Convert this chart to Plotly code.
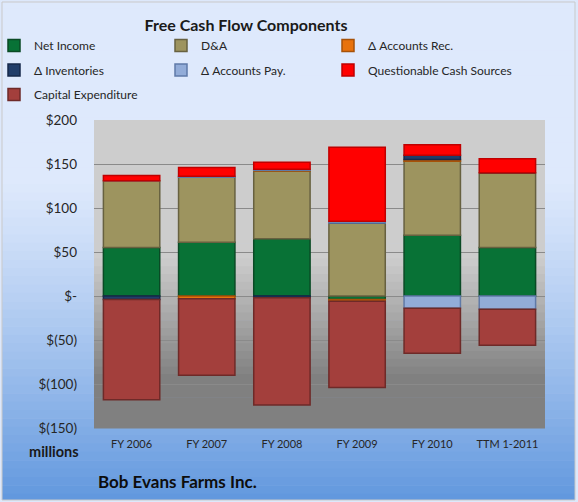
import plotly.graph_objects as go

# values in $ millions
periods = ["FY 2006", "FY 2007", "FY 2008", "FY 2009", "FY 2010", "TTM 1-2011"]
net_income = [55, 61, 65, -4, 69, 55]
d_and_a = [76, 74, 77, 83, 84, 85]
d_acc_rec = [0, -3, 1, -2, 2, 0]
d_inventories = [-4, 0, -2, 0, 5, 0]
d_acc_pay = [0, 1, 1, 2, -14, -15]
questionable = [6, 10, 8, 84, 12, 16]
capex = [-114, -87, -122, -98, -51, -41]

tick_vals = [200, 150, 100, 50, 0, -50, -100, -150]
tick_text = ["$200", "$150", "$100", "$50", "$-", "$(50)", "$(100)", "$(150)"]

FONT = "Lato, 'Open Sans', sans-serif"

# legend laid out in three columns, like the original
series = [
    ("Net Income", net_income, "#087236", "#0a4a25", "legend"),
    ("D&A", d_and_a, "#9d945f", "#676140", "legend2"),
    ("Δ Accounts Rec.", d_acc_rec, "#e8720c", "#a65208", "legend3"),
    ("Δ Inventories", d_inventories, "#213d69", "#16284a", "legend"),
    ("Δ Accounts Pay.", d_acc_pay, "#92acd8", "#5f7aa8", "legend2"),
    ("Questionable Cash Sources", questionable, "#ff0000", "#c00000", "legend3"),
    ("Capital Expenditure", capex, "#a33f3c", "#6e2a28", "legend"),
]

fig = go.Figure()
for name, vals, col, edge, leg in series:
    fig.add_trace(go.Bar(
        x=periods, y=vals, name=name, legend=leg, legendgroup=name,
        marker=dict(color=col, line=dict(color=edge, width=1.5)),
    ))

# plot area in pixels: x 94..545, y 120..428
W, H = 578, 502
L, R, T, B = 94, 33, 120, 74
pw, ph = W - L - R, H - T - B


def px_x(p):
    return (p - L) / pw


def px_y(p):
    return (H - B - p) / ph


def mix(c1, c2, t):
    return "rgb(%d,%d,%d)" % tuple(round(a + (b - a) * t) for a, b in zip(c1, c2))


shapes = []
# figure background gradient
n = 60
for k in range(n):
    y0 = k * H / n
    y1 = (k + 1) * H / n + 0.5
    t = max(0.0, (k / (n - 1) - 0.35) / 0.65) ** 1.2
    shapes.append(dict(type="rect", xref="paper", yref="paper", layer="below",
                       x0=px_x(2), x1=px_x(W - 3), y0=px_y(max(y0, 2)), y1=px_y(min(y1, H - 2)),
                       line=dict(width=0), fillcolor=mix((222, 233, 252), (98, 152, 222), t)))
# plot area gradient
m = 40
for k in range(m):
    t = k / (m - 1)
    g = 205 if t < 0.45 else 205 - (205 - 128) * min(1.0, (t - 0.45) / 0.4)
    shapes.append(dict(type="rect", xref="paper", yref="paper", layer="below",
                       x0=0, x1=1, y0=1 - k / m, y1=1 - (k + 1) / m - 0.002,
                       line=dict(width=0), fillcolor="rgb(%d,%d,%d)" % (g, g, g)))
# outer border
shapes.append(dict(type="rect", xref="paper", yref="paper", layer="above",
                   x0=px_x(2), x1=px_x(W - 3), y0=px_y(2), y1=px_y(H - 2),
                   line=dict(color="#c9c9c9", width=1)))

legend_common = dict(orientation="v", xanchor="left", yanchor="top", tracegroupgap=5.5,
                     bgcolor="rgba(0,0,0,0)", itemclick=False,
                     font=dict(family=FONT, size=12, color="#262626"))

fig.update_layout(
    width=W, height=H,
    margin=dict(l=L, r=R, t=T, b=B, autoexpand=False),
    barmode="relative",
    bargap=0.25,
    paper_bgcolor="#dde8fb",
    plot_bgcolor="rgba(0,0,0,0)",
    font=dict(family=FONT, size=12, color="#262626"),
    title=dict(text="<b>Free Cash Flow Components</b>", x=246 / W, xanchor="center",
               y=1 - 25 / H, yanchor="middle", font=dict(family=FONT, size=16, color="#1a1a1a")),
    legend=dict(x=px_x(-6), y=px_y(31), **legend_common),
    legend2=dict(x=px_x(161), y=px_y(31), **legend_common),
    legend3=dict(x=px_x(328), y=px_y(31), **legend_common),
    xaxis=dict(showgrid=False, showline=False, ticks="", tickfont=dict(size=11, color="#262626"),
               ticklabelstandoff=8),
    yaxis=dict(range=[-150, 200], tickvals=tick_vals, ticktext=tick_text,
               showgrid=True, gridcolor="#8a8a8a", gridwidth=1, zeroline=True,
               zerolinecolor="#8a8a8a", zerolinewidth=1, showline=False,
               tickfont=dict(size=13.5, color="#262626"), ticklabelstandoff=16),
    shapes=shapes,
    annotations=[
        dict(text="<b>millions</b>", xref="paper", yref="paper", x=px_x(81), y=px_y(451),
             xanchor="right", yanchor="middle", showarrow=False,
             font=dict(family=FONT, size=14.5, color="#1a1a1a")),
        dict(text="<b>Bob Evans Farms Inc.</b>", xref="paper", yref="paper", x=px_x(96),
             y=px_y(481), xanchor="left", yanchor="middle", showarrow=False,
             font=dict(family=FONT, size=17, color="#0d0d0d")),
    ],
)

# drop the browser's default 8px body margin so the figure sits at the page corner
fig.write_html("out.html", config={"displayModeBar": False},
               post_script="document.body.style.margin='0';")
